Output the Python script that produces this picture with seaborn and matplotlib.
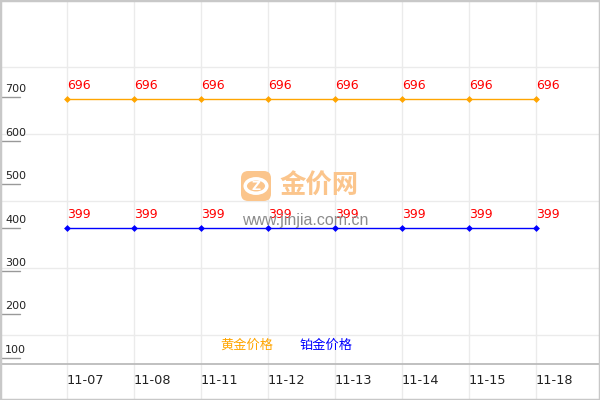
import matplotlib
matplotlib.use("Agg")
import matplotlib.pyplot as plt
import matplotlib.transforms as mtransforms
from matplotlib.patches import FancyBboxPatch, Circle
import pandas as pd
import seaborn as sns

# ---------- DATA ----------
dates = ['11-07', '11-08', '11-11', '11-12', '11-13', '11-14', '11-15', '11-18']
gold_price = [696, 696, 696, 696, 696, 696, 696, 696]
platinum_price = [399, 399, 399, 399, 399, 399, 399, 399]
series_names = ['黄金价格', '铂金价格']
y_ticks = [100, 200, 300, 400, 500, 600, 700]

series_colors = ['#FFA500', '#0000FF']

df = pd.DataFrame({
    'date': dates + dates,
    'price': gold_price + platinum_price,
    'series': [series_names[0]] * len(dates) + [series_names[1]] * len(dates),
})

# ---------- STYLE ----------
sns.set_theme(style='white')
plt.rcParams['font.family'] = ['DejaVu Sans', 'Noto Sans CJK SC']

W, H = 600, 400
fig = plt.figure(figsize=(6, 4), dpi=100)
ax = fig.add_axes([0, 0, 1, 1])

# grid (fixed 67px cells like the original)
for k in range(1, 6):
    f = 1 - 67 * k / H
    ax.plot([0, 1], [f, f], transform=ax.transAxes, color='#EBEBEB', lw=1, zorder=0)
for i in range(len(dates)):
    ax.axvline(i, color='#EBEBEB', lw=1, zorder=0)

# x axis line
ax.plot([0, 1], [1 - 364 / H] * 2, transform=ax.transAxes, color='#BBBBBB', lw=1.3, zorder=1)

sns.lineplot(data=df, x='date', y='price', hue='series', palette=series_colors,
             marker='D', markersize=3.5, markeredgewidth=0, linewidth=1,
             sort=False, legend=False, ax=ax, zorder=3)

ax.set_xlim(-1, W / 67 - 1)
ax.set_ylim(3, 924)
ax.set_xticks([])
ax.set_yticks([])
ax.set_xlabel('')
ax.set_ylabel('')
for sp in ax.spines.values():
    sp.set_visible(True)
    sp.set_color('#C8C8C8')
    sp.set_linewidth(2.5)

# y labels + short tick marks on the left
blend_y = mtransforms.blended_transform_factory(ax.transAxes, ax.transData)
for v in y_ticks:
    ax.plot([0, 20 / W], [v, v], transform=blend_y, color='#999999', lw=1, zorder=2)
    ax.annotate(str(v), xy=(5 / W, v), xycoords=blend_y, xytext=(0, 5),
                textcoords='offset pixels', ha='left', va='baseline',
                fontsize=8, color='#222222')

# x labels
blend_x = mtransforms.blended_transform_factory(ax.transData, ax.transAxes)
for i, d in enumerate(dates):
    ax.text(i, 1 - 384.5 / H, d, transform=blend_x, ha='left', va='baseline',
            fontsize=9.3, color='#222222')

# value labels
for vals in [gold_price, platinum_price]:
    for i, v in enumerate(vals):
        ax.annotate(str(v), xy=(i, v), xytext=(0, 10), textcoords='offset pixels',
                    ha='left', va='baseline', fontsize=9, color='#FF0000', zorder=5)

# legend as coloured text
fig.text(220 / W, 1 - 345 / H, series_names[0], color=series_colors[0],
         ha='left', va='center', fontsize=9.5, family=['Noto Sans CJK SC'])
fig.text(300 / W, 1 - 345 / H, series_names[1], color=series_colors[1],
         ha='left', va='center', fontsize=9.5, family=['Noto Sans CJK SC'])

# watermark
wm = '#FBC58C'
logo = FancyBboxPatch((241 / W, 1 - 201 / H), 30 / W, 30 / H,
                      boxstyle='round,pad=0,rounding_size=0.012',
                      transform=fig.transFigure, facecolor=wm, edgecolor='none',
                      zorder=1, mutation_aspect=1.5)
fig.add_artist(logo)
ring = Circle((256 / W, 1 - 186 / H), 0.018, transform=fig.transFigure,
              facecolor='none', edgecolor='white', lw=2.5)
fig.add_artist(ring)
fig.text(256 / W, 1 - 186 / H, 'Z', color='white', ha='center', va='center',
         fontsize=9, fontweight='bold')
fig.text(279 / W, 1 - 186 / H, '金价网', color=wm, ha='left', va='center',
         fontsize=19, fontweight='bold', family=['Noto Sans CJK SC'])
fig.text(242 / W, 1 - 221 / H, 'www.jinjia.com.cn', color='#8C8C8C',
         ha='left', va='center', fontsize=11.5, family=['Liberation Sans'])

fig.savefig('out.png', dpi=100)
